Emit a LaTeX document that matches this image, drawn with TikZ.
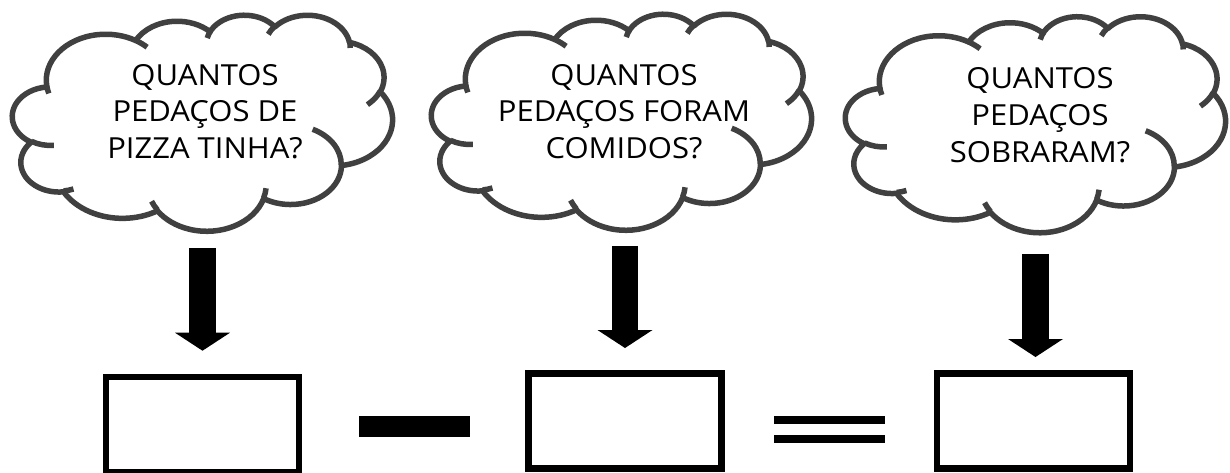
\documentclass[tikz,border=0pt]{standalone}
\usepackage{fontspec}
\setmainfont{Open Sans}
\newfontfamily\cloudfont[FakeStretch=1.07]{Open Sans}
\usetikzlibrary{arrows.meta}

\definecolor{cloudgray}{HTML}{404040}

\tikzset{
  ooarc/.style n args={4}{x radius=#1, y radius=#2,
    start angle={atan2(#1*sin(#3),#2*cos(#3))},
    delta angle={mod(atan2(#1*sin(#3+#4),#2*cos(#3+#4))-atan2(#1*sin(#3),#2*cos(#3))+720,360)}},
  cloudframe/.style={minimum width=7.6cm, minimum height=4.32cm, inner sep=0pt, outer sep=0pt},
  cloudline/.style={draw=cloudgray, line width=0.11cm, line join=round},
  cloudtext/.style={align=center, inner sep=0pt, font=\cloudfont\fontsize{16.5}{20.9}\selectfont},
  ansbox/.style={draw, line width=0.13cm, minimum width=3.86cm, minimum height=1.9cm, inner sep=0pt, outer sep=0pt},
  opbar/.style={fill, minimum width=2.22cm, inner sep=0pt, outer sep=0pt},
  bigarrow/.style={line width=0.53cm, -{Triangle[width=1.1cm, length=0.36cm, line width=0pt]}},
}

\newcommand{\drawcloud}[1]{%
  \begin{scope}[shift={(#1.north west)}, x=1cm, y=1cm, xscale=0.175926, yscale=-0.1]
    \draw[cloudline] (3.9,14.37)
      arc[ooarc={6.753}{9.19}{-190.48748}{123.78053}]
      arc[ooarc={5.333}{7.267}{-144.10238}{89.94523}]
      arc[ooarc={4.365}{5.945}{-145.80792}{99.72302}]
      arc[ooarc={4.857}{6.595}{-130.98607}{117.24173}]
      arc[ooarc={5.333}{7.273}{-78.70888}{109.02692}]
      arc[ooarc={6.775}{9.22}{-46.26725}{130.269}]
      arc[ooarc={5.785}{7.867}{0.62502}{114.03333}]
      arc[ooarc={6.752}{9.215}{22.4516}{115.17255}]
      arc[ooarc={7.72}{10.543}{66.24263}{75.71102}]
      arc[ooarc={4.36}{5.918}{-274.94208}{146.73557}]
      arc[ooarc={4.345}{5.945}{-246.8285}{152.51885}] -- cycle;
    \draw[cloudline]
      (4.693,26.177) arc[ooarc={4.345}{5.945}{86.742}{26.4295}]
      (6.928,34.899) arc[ooarc={4.36}{5.918}{73.61047}{11.44747}]
      (16.478,39.09) arc[ooarc={6.752}{9.215}{137.62415}{14.0811}]
      (28.827,34.751) arc[ooarc={6.752}{9.215}{6.45327}{15.99835}]
      (34.129,22.954) arc[ooarc={5.785}{7.867}{-70.29235}{70.91737}]
      (41.798,15.354) arc[ooarc={5.333}{7.273}{30.31803}{27.7515}]
      (38.324,5.426) arc[ooarc={4.857}{6.595}{-13.74433}{14.8589}]
      (29.078,3.952) arc[ooarc={4.857}{6.595}{-149.18145}{18.19537}]
      (22.141,4.72) arc[ooarc={4.365}{5.945}{-163.49427}{17.68635}]
      (14,5.192) arc[ooarc={6.753}{9.19}{-66.70695}{12.31935}]
      (4.127,15.789) arc[ooarc={6.753}{9.19}{157.65435}{11.8608}];
  \end{scope}}

\begin{document}
\begin{tikzpicture}[x=0.02cm, y=-0.02cm]
\useasboundingbox (0,0) rectangle (1230,473);

\node[cloudframe] (c1) at (202.5,122.5) {};
\node[cloudframe] (c2) at (621.5,121.5) {};
\node[cloudframe] (c3) at (1035.5,124) {};

\node[cloudtext] (q1) at (205,111.5) {QUANTOS\\PEDAÇOS DE\\PIZZA TINHA?};
\node[cloudtext] (q2) at (624,111.5) {QUANTOS\\PEDAÇOS FORAM\\COMIDOS?};
\node[cloudtext] (q3) at (1040,115) {QUANTOS\\PEDAÇOS\\SOBRARAM?};

\node[ansbox] (b1) at (202.5,424.5) {};
\node[ansbox] (b2) at (625,420.8) {};
\node[ansbox] (b3) at (1033.3,420.8) {};

\node[opbar, minimum height=0.42cm] (minus) at (414.5,426.5) {};
\node[opbar, minimum height=0.16cm] (eqa) at (829.5,420) {};
\node[opbar, minimum height=0.16cm] (eqb) at (829.5,439) {};

\drawcloud{c1}
\drawcloud{c2}
\drawcloud{c3}

\draw[bigarrow, shorten <=0.35cm, shorten >=0.526cm] (b1.north |- c1.south) -- (b1.north);
\draw[bigarrow, shorten <=0.33cm, shorten >=0.506cm] (b2.north |- c2.south) -- (b2.north);
\draw[bigarrow, shorten <=0.44cm, shorten >=0.326cm] (c3.south) -- (c3.south |- b3.north);

\end{tikzpicture}
\end{document}
